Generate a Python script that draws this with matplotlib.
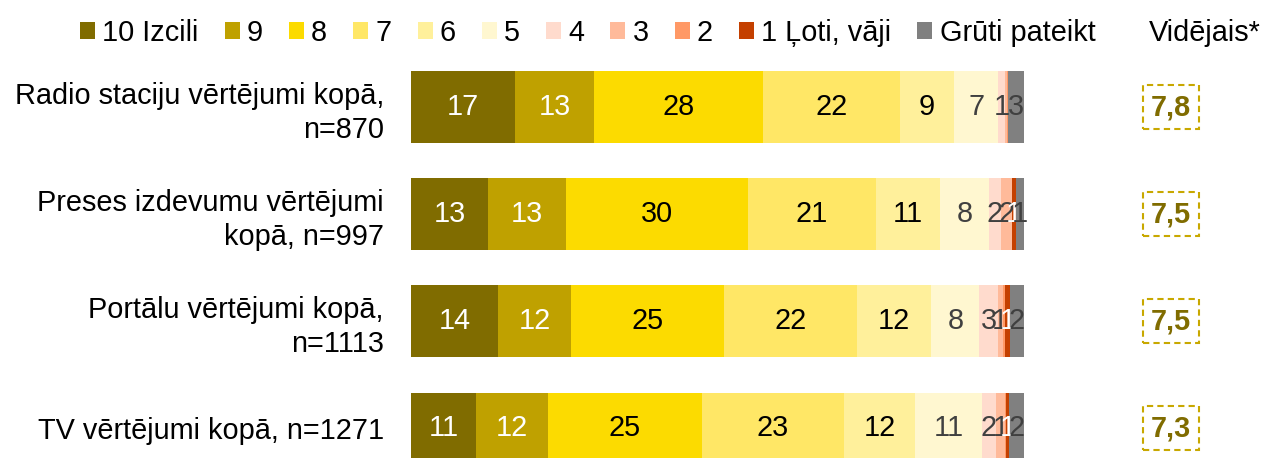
import matplotlib
matplotlib.use('Agg')
import matplotlib.pyplot as plt
from matplotlib.patches import Patch
import matplotlib.transforms as mtransforms

plt.rcParams['font.family'] = ['Liberation Sans', 'DejaVu Sans']

categories = ["Radio staciju vērtējumi kopā,\nn=870",
              "Preses izdevumu vērtējumi\nkopā, n=997",
              "Portālu vērtējumi kopā,\nn=1113",
              "TV vērtējumi kopā, n=1271"]
series_names = ["10 Izcili", "9", "8", "7", "6", "5", "4", "3", "2",
                "1 Ļoti, vāji", "Grūti pateikt"]
s10 = [17.0, 12.6, 14.2, 10.6]
s9 = [12.9, 12.7, 11.9, 11.7]
s8 = [27.6, 29.6, 25.0, 25.1]
s7 = [22.3, 20.9, 21.6, 23.3]
s6 = [8.8, 10.5, 12.2, 11.6]
s5 = [7.2, 8.0, 7.8, 10.8]
s4 = [1.1, 1.9, 3.0, 2.4]
s3 = [0.3, 1.8, 0.8, 1.4]
s2 = [0.2, 0.1, 0.4, 0.1]
s1 = [0.0, 0.6, 0.8, 0.6]
s_dk = [2.6, 1.3, 2.3, 2.4]
averages = ["7,8", "7,5", "7,5", "7,3"]

series = [s10, s9, s8, s7, s6, s5, s4, s3, s2, s1, s_dk]
colors = ["#806C00", "#BFA100", "#FCDB00", "#FFE766", "#FFF09B", "#FFF7D0",
          "#FFDBCD", "#FFBA9A", "#FF9966", "#C44000", "#808080"]
text_colors = ["white", "white", "black", "black", "black", "#404040",
               "#404040", "#404040", "#404040", "white", "#404040"]

FS = 20.8
W, H = 1265, 458
fig = plt.figure(figsize=(W / 100, H / 100), dpi=100)
ax = fig.add_axes([411 / W, 0, 613 / W, (H - 53.5) / H])

ypos = list(range(len(categories)))
left = [0.0] * len(categories)
for vals, col, tcol in zip(series, colors, text_colors):
    ax.barh(ypos, vals, left=left, height=0.664, color=col, edgecolor='none')
    for y, v, l in zip(ypos, vals, left):
        lab = int(v + 0.5)
        if lab >= 1:
            ax.text(l + v / 2, y, str(lab), ha='center', va='center',
                    color=tcol, fontsize=FS)
    left = [a + b for a, b in zip(left, vals)]

ax.set_xlim(0, 100)
ax.set_ylim(3.28, -0.5)
ax.set_yticks(ypos)
ax.set_yticklabels(categories, fontsize=FS, linespacing=1.25, ha='right')
ax.tick_params(axis='y', length=0, pad=19.5)
ax.set_xticks([])
for sp in ax.spines.values():
    sp.set_visible(False)

trans = mtransforms.blended_transform_factory(fig.transFigure, ax.transData)
for y, a in zip(ypos, averages):
    ax.text(1171 / W, y, a, transform=trans, ha='center', va='center',
            fontsize=FS, fontweight='bold', color="#806C00",
            bbox=dict(boxstyle='square,pad=0.28', facecolor='white',
                      edgecolor="#C8A800", linestyle=(0, (3, 2)), linewidth=1.5))

handles = [Patch(facecolor=c, edgecolor='none') for c in colors]
fig.legend(handles, series_names, loc='center left',
           bbox_to_anchor=(80 / W, 1 - 33 / H), ncol=11, frameon=False,
           handlelength=0.52, handleheight=0.55, handletextpad=0.25,
           columnspacing=0.9, borderpad=0, borderaxespad=0, fontsize=FS)
fig.text(1205 / W, 1 - 33 / H, "Vidējais*", ha='center', va='center', fontsize=FS)

fig.savefig('out.png', dpi=100)
